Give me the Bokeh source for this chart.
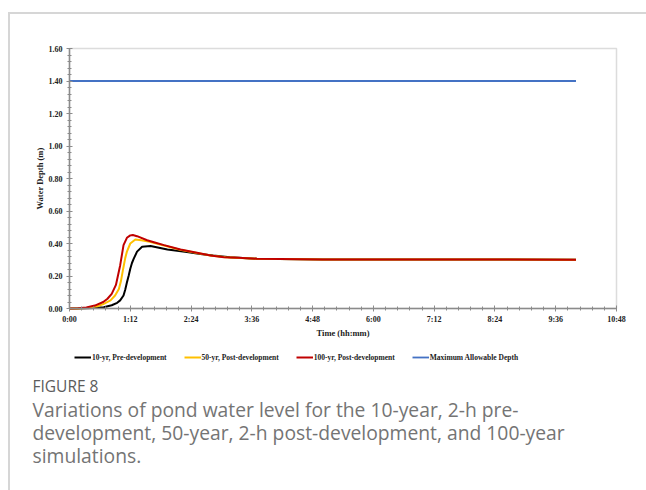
from bokeh.plotting import figure
from bokeh.models import (FixedTicker, NumeralTickFormatter, Legend, LegendItem,
                          Label, Range1d, InlineStyleSheet, BoxAnnotation)
from bokeh.embed import file_html
from bokeh.resources import INLINE

# ---- data (time in minutes, depth in m) ----
t_pre10 = [0, 10, 20, 30, 40.6, 50, 56.5, 60, 64, 66, 68, 70, 72, 74, 76, 80, 86, 96,
           116, 139, 155, 170, 190, 222, 300, 400, 500, 600]
d_pre10 = [0, 0, 0.001, 0.003, 0.008, 0.02, 0.035, 0.05, 0.08, 0.115, 0.16, 0.2, 0.245,
           0.28, 0.305, 0.35, 0.38, 0.384, 0.363, 0.347, 0.336, 0.326, 0.316, 0.306,
           0.302, 0.301, 0.301, 0.300]

t_post50 = [0, 10, 20, 33, 40, 48.6, 54, 58.5, 61, 63.6, 66, 68, 72, 78, 85, 95, 112,
            131, 151, 167, 185, 222, 300, 400, 500, 600]
d_post50 = [0, 0.0005, 0.003, 0.014, 0.027, 0.05, 0.08, 0.12, 0.17, 0.245, 0.31, 0.35,
            0.40, 0.425, 0.42, 0.41, 0.388, 0.362, 0.342, 0.326, 0.316, 0.306, 0.302,
            0.301, 0.301, 0.300]

t_post100 = [0, 10, 20, 30, 40, 45, 50, 55, 60, 64, 68, 72, 75, 80, 92, 100, 112, 131.5,
             151, 167, 183, 200, 222, 250, 300, 380, 450, 520, 600]
d_post100 = [0, 0.001, 0.006, 0.018, 0.04, 0.06, 0.09, 0.145, 0.265, 0.39, 0.435, 0.45,
             0.452, 0.445, 0.42, 0.408, 0.39, 0.363, 0.343, 0.326, 0.316, 0.312, 0.306,
             0.305, 0.302, 0.302, 0.301, 0.301, 0.300]

t_max = [0, 600]
d_max = [1.40, 1.40]

series_names = ["10-yr, Pre-development", "50-yr, Post-development",
                "100-yr, Post-development", "Maximum Allowable Depth"]

x_tick_minutes = [0, 72, 144, 216, 288, 360, 432, 504, 576, 648]
x_tick_labels = ["0:00", "1:12", "2:24", "3:36", "4:48", "6:00", "7:12", "8:24", "9:36", "10:48"]
y_ticks = [0.0, 0.2, 0.4, 0.6, 0.8, 1.0, 1.2, 1.4, 1.6]

caption_title = "FIGURE 8"
caption_lines = ["Variations of pond water level for the 10-year, 2-h pre-",
                 "development, 50-year, 2-h post-development, and 100-year",
                 "simulations."]

X_MIN, X_MAX = x_tick_minutes[0], x_tick_minutes[-1]
Y_MIN, Y_MAX = y_ticks[0], y_ticks[-1]

# ---- layout geometry (pixels) ----
W, H = 644, 488
FL, FR, FT, FB = 20, 640, 36, 484          # frame edges on the canvas
AX_L, AX_R, AX_T, AX_B = 69, 616, 48, 308  # chart box edges on the canvas
kx = (AX_R - AX_L) / (X_MAX - X_MIN)
ky = (AX_B - AX_T) / (Y_MAX - Y_MIN)
x_range = Range1d(X_MIN - (AX_L - FL) / kx, X_MAX + (FR - AX_R) / kx)
y_range = Range1d(Y_MIN - (FB - AX_B) / ky, Y_MAX + (AX_T - FT) / ky)

p = figure(width=W, height=H, output_backend="svg", toolbar_location=None,
           x_range=x_range, y_range=y_range,
           min_border_left=FL, min_border_right=W - FR, min_border_top=FT,
           min_border_bottom=H - FB)
# decorative card border (top and left lines), not part of the layout
p.stylesheets = [InlineStyleSheet(css="""
:host::before { content: ""; position: absolute; left: 8px; top: 12px; right: -4px;
                height: 1.5px; background: #d6d6d6; z-index: 10; pointer-events: none; }
:host::after  { content: ""; position: absolute; left: 8px; top: 12px; bottom: -4px;
                width: 1.5px; background: #d6d6d6; z-index: 10; pointer-events: none; }
""")]
p.grid.visible = False
p.outline_line_color = None
p.background_fill_color = "white"
p.border_fill_color = "white"

p.add_layout(BoxAnnotation(left=X_MIN, right=X_MAX, bottom=Y_MIN, top=Y_MAX,
                           fill_alpha=0, line_color="#8c8c8c", line_width=1.5))

FONT = "Liberation Serif"
for ax in (p.xaxis[0], p.yaxis[0]):
    ax.axis_line_color = "#8c8c8c"
    ax.axis_line_width = 1.5
    ax.major_tick_line_color = "#8c8c8c"
    ax.minor_tick_line_color = "#8c8c8c"
    ax.major_label_text_font = FONT
    ax.major_label_text_font_style = "bold"
    ax.major_label_text_font_size = "8px"
    ax.major_label_text_color = "#222222"
    ax.axis_label_text_font = FONT
    ax.axis_label_text_font_style = "bold"
    ax.axis_label_text_font_size = "8.5px"
    ax.axis_label_text_color = "#222222"
    ax.major_tick_in = 3
    ax.major_tick_out = 3
    ax.minor_tick_in = 2
    ax.minor_tick_out = 2

minor_x = [i * 14.4 for i in range(46)]
p.xaxis.ticker = FixedTicker(ticks=x_tick_minutes, minor_ticks=minor_x)
p.xaxis.major_label_overrides = {m: l for m, l in zip(x_tick_minutes, x_tick_labels)}
p.xaxis.axis_label = "Time (hh:mm)"
p.xaxis.major_label_standoff = 3
p.xaxis.axis_label_standoff = 1
p.xaxis.fixed_location = Y_MIN
p.xaxis.bounds = (X_MIN, X_MAX)

minor_y = [round(i * 0.04, 2) for i in range(41)]
p.yaxis.ticker = FixedTicker(ticks=y_ticks, minor_ticks=minor_y)
p.yaxis.formatter = NumeralTickFormatter(format="0.00")
p.yaxis.axis_label = "Water Depth (m)"
p.yaxis.major_label_standoff = 4
p.yaxis.axis_label_standoff = 1
p.yaxis.fixed_location = X_MIN
p.yaxis.bounds = (Y_MIN, Y_MAX)

r1 = p.line(t_pre10, d_pre10, line_color="#000000", line_width=2)
r2 = p.line(t_post50, d_post50, line_color="#FFC000", line_width=2)
r3 = p.line(t_post100, d_post100, line_color="#C00000", line_width=2)
r4 = p.line(t_max, d_max, line_color="#4472C4", line_width=1.8)

# legend inside the (extended) frame, below the chart box
legend = Legend(items=[LegendItem(label=n, renderers=[r]) for n, r in
                       zip(series_names, [r1, r2, r3, r4])],
                orientation="horizontal", location=(74 - FL, FB - 362),
                label_text_font=FONT, label_text_font_style="bold",
                label_text_font_size="7.5px", label_text_color="#222222",
                glyph_width=17, glyph_height=10, label_standoff=1, spacing=17,
                padding=5, margin=0, border_line_color=None,
                background_fill_alpha=0, label_height=10)
p.add_layout(legend)

p.add_layout(Label(x=32 - FL, y=FB - 385, x_units="screen", y_units="screen",
                   text=caption_title, text_font="Open Sans", text_font_size="15.5px",
                   text_color="#5c5c5c", text_baseline="middle"))
for i, line in enumerate(caption_lines):
    p.add_layout(Label(x=32 - FL, y=FB - (409 + 23 * i), x_units="screen", y_units="screen",
                       text=line, text_font="Open Sans", text_font_size="19.3px",
                       text_color="#747474", text_baseline="middle"))

open("out.html", "w").write(file_html(p, INLINE))
